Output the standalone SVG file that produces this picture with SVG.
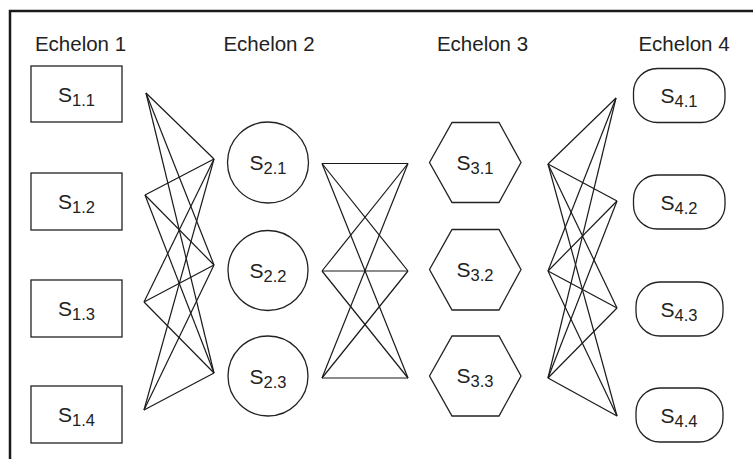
<svg xmlns="http://www.w3.org/2000/svg" width="753" height="459" viewBox="0 0 753 459">
  <style>
    .frame { fill: none; stroke: #1a1a1a; stroke-width: 2.5; }
    .shape { fill: #ffffff; stroke: #222222; stroke-width: 1.3; }
    .link { stroke: #1a1a1a; stroke-width: 1.2; fill: none; }
    .head { font-family: "Liberation Sans", Arial, sans-serif; font-size: 20.5px; fill: #222222; text-anchor: middle; }
    .lbl { font-family: "Liberation Sans", Arial, sans-serif; font-size: 21px; fill: #222222; text-anchor: middle; }
    .sub { font-size: 16.5px; }
  </style>
  <rect width="753" height="459" fill="#ffffff"/>

  <!-- outer frame: top and left edges only -->
  <path class="frame" d="M10,459 L10,11 L753,11"/>

  <!-- echelon headings -->
  <g id="headings">
    <text class="head" x="80.5" y="50.5">Echelon 1</text>
    <text class="head" x="269" y="50.5">Echelon 2</text>
    <text class="head" x="482.5" y="50.5">Echelon 3</text>
    <text class="head" x="684" y="51">Echelon 4</text>
  </g>

  <!-- connectors -->
  <g id="connectors" class="link">
    <!-- echelon 1 to echelon 2 -->
    <line x1="146" y1="93" x2="214" y2="159"/>
    <line x1="146" y1="93" x2="214" y2="265"/>
    <line x1="146" y1="93" x2="214" y2="373"/>
    <line x1="145" y1="195" x2="214" y2="159"/>
    <line x1="145" y1="195" x2="214" y2="265"/>
    <line x1="145" y1="195" x2="214" y2="373"/>
    <line x1="144" y1="302" x2="214" y2="159"/>
    <line x1="144" y1="302" x2="214" y2="265"/>
    <line x1="144" y1="302" x2="214" y2="373"/>
    <line x1="144" y1="410" x2="214" y2="159"/>
    <line x1="144" y1="410" x2="214" y2="265"/>
    <line x1="144" y1="410" x2="214" y2="373"/>
    <!-- echelon 2 to echelon 3 -->
    <line x1="322" y1="163.5" x2="408" y2="163.5"/>
    <line x1="322" y1="163.5" x2="408" y2="271"/>
    <line x1="322" y1="163.5" x2="408" y2="378"/>
    <line x1="322" y1="271" x2="408" y2="163.5"/>
    <line x1="322" y1="271" x2="408" y2="271"/>
    <line x1="322" y1="271" x2="408" y2="378"/>
    <line x1="322" y1="378" x2="408" y2="163.5"/>
    <line x1="322" y1="378" x2="408" y2="271"/>
    <line x1="322" y1="378" x2="408" y2="378"/>
    <!-- echelon 3 to echelon 4 -->
    <line x1="548" y1="164" x2="616" y2="98"/>
    <line x1="548" y1="164" x2="617" y2="201"/>
    <line x1="548" y1="164" x2="617" y2="308"/>
    <line x1="548" y1="164" x2="617" y2="416"/>
    <line x1="548" y1="271" x2="616" y2="98"/>
    <line x1="548" y1="271" x2="617" y2="201"/>
    <line x1="548" y1="271" x2="617" y2="308"/>
    <line x1="548" y1="271" x2="617" y2="416"/>
    <line x1="548" y1="378" x2="616" y2="98"/>
    <line x1="548" y1="378" x2="617" y2="201"/>
    <line x1="548" y1="378" x2="617" y2="308"/>
    <line x1="548" y1="378" x2="617" y2="416"/>
  </g>

  <!-- echelon 1: rectangles -->
  <g id="s1-1"><rect class="shape" x="31" y="66" width="91" height="56"/><text class="lbl" x="76.5" y="101.5">S<tspan class="sub" dy="4">1.1</tspan></text></g>
  <g id="s1-2"><rect class="shape" x="31" y="173" width="91" height="57"/><text class="lbl" x="76.5" y="209">S<tspan class="sub" dy="4">1.2</tspan></text></g>
  <g id="s1-3"><rect class="shape" x="31" y="280" width="91" height="57"/><text class="lbl" x="76.5" y="316">S<tspan class="sub" dy="4">1.3</tspan></text></g>
  <g id="s1-4"><rect class="shape" x="31" y="386" width="91" height="57"/><text class="lbl" x="76.5" y="422">S<tspan class="sub" dy="4">1.4</tspan></text></g>

  <!-- echelon 2: circles -->
  <g id="s2-1"><circle class="shape" cx="268" cy="162.5" r="40.5"/><text class="lbl" x="268" y="170">S<tspan class="sub" dy="4">2.1</tspan></text></g>
  <g id="s2-2"><circle class="shape" cx="268" cy="270.5" r="40"/><text class="lbl" x="268" y="278">S<tspan class="sub" dy="4">2.2</tspan></text></g>
  <g id="s2-3"><circle class="shape" cx="268" cy="376" r="40"/><text class="lbl" x="268" y="384">S<tspan class="sub" dy="4">2.3</tspan></text></g>

  <!-- echelon 3: hexagons -->
  <g id="s3-1"><polygon class="shape" points="429.5,162.5 452,122.5 499,122.5 521,162.5 499,202.5 452,202.5"/><text class="lbl" x="475" y="169.5">S<tspan class="sub" dy="4">3.1</tspan></text></g>
  <g id="s3-2"><polygon class="shape" points="429.5,269.5 452,229.5 499,229.5 521,269.5 499,310 452,310"/><text class="lbl" x="475" y="276.5">S<tspan class="sub" dy="4">3.2</tspan></text></g>
  <g id="s3-3"><polygon class="shape" points="429.5,376 452,336 499,336 521,376 499,416 452,416"/><text class="lbl" x="475" y="383">S<tspan class="sub" dy="4">3.3</tspan></text></g>

  <!-- echelon 4: rounded rectangles -->
  <g id="s4-1"><rect class="shape" x="633.5" y="68.5" width="91.5" height="54" rx="24" ry="24"/><text class="lbl" x="679" y="103">S<tspan class="sub" dy="4">4.1</tspan></text></g>
  <g id="s4-2"><rect class="shape" x="633.5" y="175" width="91.5" height="54" rx="24" ry="24"/><text class="lbl" x="679" y="210">S<tspan class="sub" dy="4">4.2</tspan></text></g>
  <g id="s4-3"><rect class="shape" x="636" y="282" width="87" height="54" rx="24" ry="24"/><text class="lbl" x="679" y="317">S<tspan class="sub" dy="4">4.3</tspan></text></g>
  <g id="s4-4"><rect class="shape" x="636" y="388" width="87" height="54" rx="24" ry="24"/><text class="lbl" x="679" y="423">S<tspan class="sub" dy="4">4.4</tspan></text></g>
</svg>
